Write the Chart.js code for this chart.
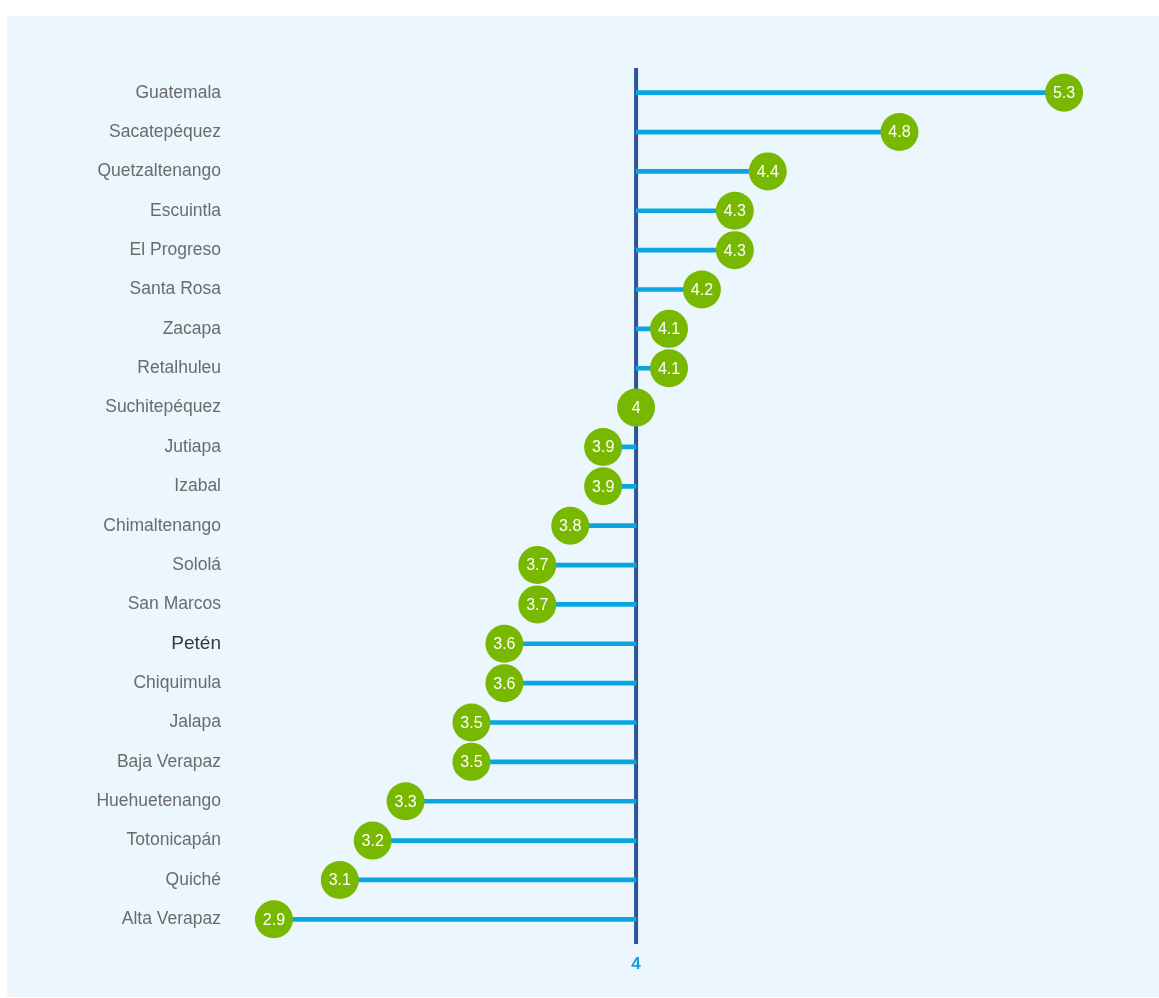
<!DOCTYPE html>
<html>
<head>
<meta charset="utf-8">
<script src="https://cdn.jsdelivr.net/npm/chart.js@4.4.1/dist/chart.umd.min.js"></script>
<style>
  html, body { margin: 0; padding: 0; background: #ffffff; }
  #panel { position: absolute; left: 7px; top: 16px; width: 1152px; height: 981px; background: #ECF6FD; }
  #c { position: absolute; left: 0; top: 0; }
</style>
</head>
<body>
<div id="panel"></div>
<canvas id="c" width="1159" height="998"></canvas>
<script>
const categories = ["Guatemala","Sacatepéquez","Quetzaltenango","Escuintla","El Progreso","Santa Rosa","Zacapa","Retalhuleu","Suchitepéquez","Jutiapa","Izabal","Chimaltenango","Sololá","San Marcos","Petén","Chiquimula","Jalapa","Baja Verapaz","Huehuetenango","Totonicapán","Quiché","Alta Verapaz"];
const values = [5.3,4.8,4.4,4.3,4.3,4.2,4.1,4.1,4,3.9,3.9,3.8,3.7,3.7,3.6,3.6,3.5,3.5,3.3,3.2,3.1,2.9];
const baseline = 4;
const xTicks = [4];
const highlighted = "Petén";

const FONT = '"Liberation Sans", Arial, Helvetica, sans-serif';

const axisLine = {
  id: 'axisLine',
  beforeDatasetsDraw(chart) {
    const x = chart.scales.x.getPixelForValue(baseline);
    const ca = chart.chartArea;
    const ctx = chart.ctx;
    ctx.save();
    ctx.strokeStyle = '#2B5597';
    ctx.lineWidth = 4;
    ctx.beginPath();
    ctx.moveTo(x, ca.top - 5);
    ctx.lineTo(x, ca.bottom + 5);
    ctx.stroke();
    ctx.restore();
  }
};

const valueLabels = {
  id: 'valueLabels',
  afterDatasetsDraw(chart) {
    const meta = chart.getDatasetMeta(1);
    const ctx = chart.ctx;
    ctx.save();
    ctx.fillStyle = '#ffffff';
    ctx.font = '16px ' + FONT;
    ctx.textAlign = 'center';
    ctx.textBaseline = 'middle';
    meta.data.forEach((pt, i) => {
      ctx.fillText(String(values[i]), pt.x, pt.y + 1);
    });
    ctx.restore();
  }
};

new Chart(document.getElementById('c'), {
  type: 'bar',
  data: {
    labels: categories,
    datasets: [
      {
        type: 'bar',
        data: values.map(v => [baseline, v]),
        backgroundColor: '#0AA6E1',
        barThickness: 4,
        borderWidth: 0,
        order: 2
      },
      {
        type: 'line',
        data: values,
        showLine: false,
        pointRadius: 19,
        pointHoverRadius: 19,
        pointBackgroundColor: '#79B800',
        pointBorderWidth: 0,
        borderColor: '#79B800',
        order: 1
      }
    ]
  },
  options: {
    indexAxis: 'y',
    responsive: false,
    animation: false,
    events: [],
    layout: { padding: { top: 73, right: 62, left: 0, bottom: 0 } },
    plugins: { legend: { display: false }, tooltip: { enabled: false } },
    scales: {
      x: {
        type: 'linear',
        min: 2.8,
        max: 5.4,
        grid: { display: false, drawTicks: false },
        border: { display: false },
        afterBuildTicks: (axis) => { axis.ticks = xTicks.map(v => ({ value: v })); },
        afterFit: (axis) => { axis.height = 59; },
        ticks: {
          padding: 15,
          color: '#12A4E0',
          font: { family: FONT, size: 17, weight: 'bold' },
          callback: (v) => String(v)
        }
      },
      y: {
        type: 'category',
        grid: { display: false, drawTicks: false },
        border: { display: false },
        afterFit: (axis) => { axis.width = 241; },
        ticks: {
          padding: 20,
          autoSkip: false,
          color: (c) => categories[c.index] === highlighted ? '#383838' : '#6B6B6B',
          font: (c) => categories[c.index] === highlighted
            ? { family: FONT, size: 19 }
            : { family: FONT, size: 17.5 }
        }
      }
    }
  },
  plugins: [axisLine, valueLabels]
});
</script>
</body>
</html>
